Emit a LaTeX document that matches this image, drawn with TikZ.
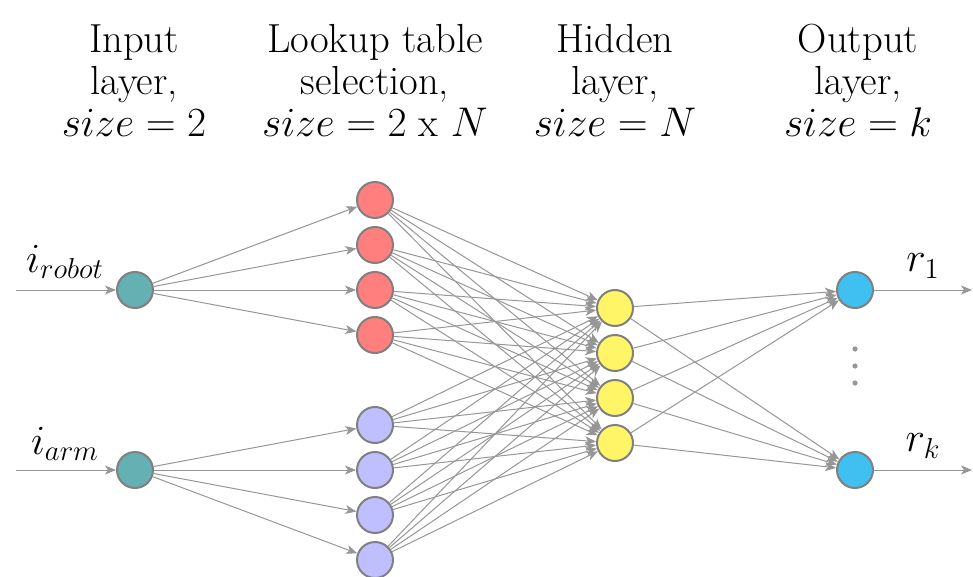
\documentclass[tikz,border=0pt]{standalone}
\usetikzlibrary{arrows.meta}
\definecolor{edgegray}{RGB}{150,150,150}
\definecolor{bordergray}{RGB}{128,128,128}
\definecolor{inputcol}{RGB}{100,176,178}
\definecolor{redcol}{RGB}{255,127,127}
\definecolor{purplecol}{RGB}{191,191,255}
\definecolor{yellowcol}{RGB}{255,245,102}
\definecolor{bluecol}{RGB}{64,192,240}
\begin{document}
\begin{tikzpicture}[x=0.5pt,y=-0.5pt,
  neuron/.style={circle, draw=bordergray, line width=1pt, minimum size=18pt, inner sep=0pt},
  conn/.style={draw=edgegray, line width=0.5pt, -{Stealth[length=5.5pt,width=4.5pt,inset=1.5pt]}},
  hdr/.style={align=center, anchor=base, font=\fontsize{20.3}{21}\selectfont},
  lbl/.style={font=\fontsize{20}{22}\selectfont}]
\useasboundingbox (0,0) rectangle (973,577);

% headers
\node[hdr] (h1) at (134,137) {Input\\layer,\\$size = 2$};
\node[hdr] (h2) at (375,137) {Lookup table\\selection,\\$size = 2$ x $N$};
\node[hdr] (h3) at (615,137) {Hidden\\layer,\\$size = N$};
\node[hdr] (h4) at (858,137) {Output\\layer,\\$size = k$};

% input
\node[neuron, fill=inputcol] (I1) at (135,290) {};
\node[neuron, fill=inputcol] (I2) at (135,470) {};
% lookup
\foreach \i/\y in {1/200,2/245,3/290,4/335}
  \node[neuron, fill=redcol] (L\i) at (375,\y) {};
\foreach \i/\y in {5/425,6/470,7/515,8/560}
  \node[neuron, fill=purplecol] (L\i) at (375,\y) {};
% hidden
\foreach \i/\y in {1/308,2/353,3/398,4/443}
  \node[neuron, fill=yellowcol] (H\i) at (615,\y) {};
% output
\node[neuron, fill=bluecol] (O1) at (855,290) {};
\node[neuron, fill=bluecol] (O2) at (855,470) {};

% dots
\foreach \y/\n in {349/1,366/2,383/3}
  \fill[edgegray] (855,\y) circle (1.3pt);

% inputs
\coordinate (a1) at (16,290);
\coordinate (a2) at (16,470);
\draw[conn] (a1) -- (I1);
\draw[conn] (a2) -- (I2);
\node[lbl] (li1) at (65,262) {$i_{robot}$};
\node[lbl] (li2) at (65,444) {$i_{arm}$};

% input to lookup
\foreach \j in {1,...,4} \draw[conn] (I1) -- (L\j);
\foreach \j in {5,...,8} \draw[conn] (I2) -- (L\j);
% lookup to hidden
\foreach \i in {1,...,8}
  \foreach \j in {1,...,4}
    \draw[conn] (L\i) -- (H\j);
% hidden to output
\foreach \i in {1,...,4}
  \foreach \j in {1,2}
    \draw[conn] (H\i) -- (O\j);

% outputs
\coordinate (b1) at (972,290);
\coordinate (b2) at (972,470);
\draw[conn] (O1) -- (b1);
\draw[conn] (O2) -- (b2);
\node[lbl] (lo1) at (923,266) {$r_1$};
\node[lbl] (lo2) at (923,446) {$r_k$};
\end{tikzpicture}
\end{document}
